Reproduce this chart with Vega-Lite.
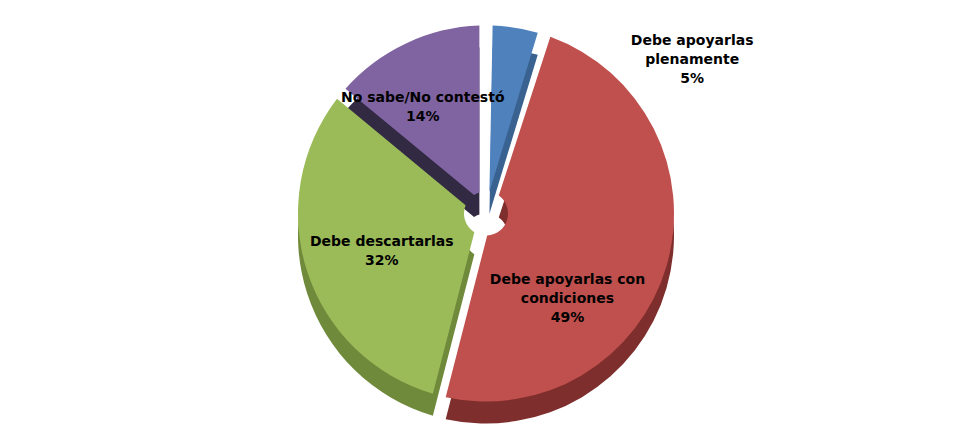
{
  "$schema": "https://vega.github.io/schema/vega-lite/v6.json",
  "width": 972,
  "height": 427,
  "autosize": "none",
  "padding": 0,
  "background": "white",
  "view": {"stroke": null},
  "data": {"values": [
    {"order": 1, "categoria": "Debe apoyarlas plenamente", "label": "Debe apoyarlas\nplenamente\n5%", "pct": 5},
    {"order": 2, "categoria": "Debe apoyarlas con condiciones", "label": "Debe apoyarlas con\ncondiciones\n49%", "pct": 49},
    {"order": 3, "categoria": "Debe descartarlas", "label": "Debe descartarlas\n32%", "pct": 32},
    {"order": 4, "categoria": "No sabe/No contestó", "label": "No sabe/No contestó\n14%", "pct": 14}
  ]},
  "encoding": {
    "theta": {"field": "pct", "type": "quantitative", "stack": true},
    "order": {"field": "order", "type": "ordinal"}
  },
  "layer": [
    {
      "mark": {"type": "arc", "outerRadius": 188, "innerRadius": 22, "padAngle": 0.07, "yOffset": 22},
      "encoding": {
        "color": {"field": "categoria", "type": "nominal", "legend": null,
          "scale": {"domain": ["Debe apoyarlas plenamente", "Debe apoyarlas con condiciones", "Debe descartarlas", "No sabe/No contestó"],
                    "range": ["#3A6290", "#7E2E2C", "#6F8A3A", "#322943"]}}
      }
    },
    {
      "mark": {"type": "arc", "outerRadius": 188, "innerRadius": 22, "padAngle": 0.07},
      "encoding": {
        "fill": {"field": "categoria", "type": "nominal", "legend": null,
          "scale": {"domain": ["Debe apoyarlas plenamente", "Debe apoyarlas con condiciones", "Debe descartarlas", "No sabe/No contestó"],
                    "range": ["#4F81BD", "#C0504D", "#9BBB59", "#8064A2"]}}
      }
    },
    {
      "mark": {"type": "text", "radius": 105, "thetaOffset": 0.4, "font": "DejaVu Sans", "fontSize": 14, "fontWeight": "bold", "color": "black", "lineBreak": "\n", "lineHeight": 19, "align": "center", "baseline": "middle"},
      "encoding": {"text": {"condition": {"test": "datum.order == 2", "field": "label"}, "value": ""}}
    },
    {
      "mark": {"type": "text", "radius": 108, "thetaOffset": 0.05, "font": "DejaVu Sans", "fontSize": 14, "fontWeight": "bold", "color": "black", "lineBreak": "\n", "lineHeight": 19, "align": "center", "baseline": "middle"},
      "encoding": {"text": {"condition": {"test": "datum.order == 3", "field": "label"}, "value": ""}}
    },
    {
      "mark": {"type": "text", "radius": 132, "thetaOffset": -0.06, "font": "DejaVu Sans", "fontSize": 14, "fontWeight": "bold", "color": "black", "lineBreak": "\n", "lineHeight": 19, "align": "center", "baseline": "middle"},
      "encoding": {"text": {"condition": {"test": "datum.order == 4", "field": "label"}, "value": ""}}
    },
    {
      "mark": {"type": "text", "radius": 269, "thetaOffset": 0.716, "font": "DejaVu Sans", "fontSize": 14, "fontWeight": "bold", "color": "black", "lineBreak": "\n", "lineHeight": 19, "align": "center", "baseline": "middle"},
      "encoding": {"text": {"condition": {"test": "datum.order == 1", "field": "label"}, "value": ""}}
    }
  ],
  "resolve": {"scale": {"color": "independent", "fill": "independent"}}
}
